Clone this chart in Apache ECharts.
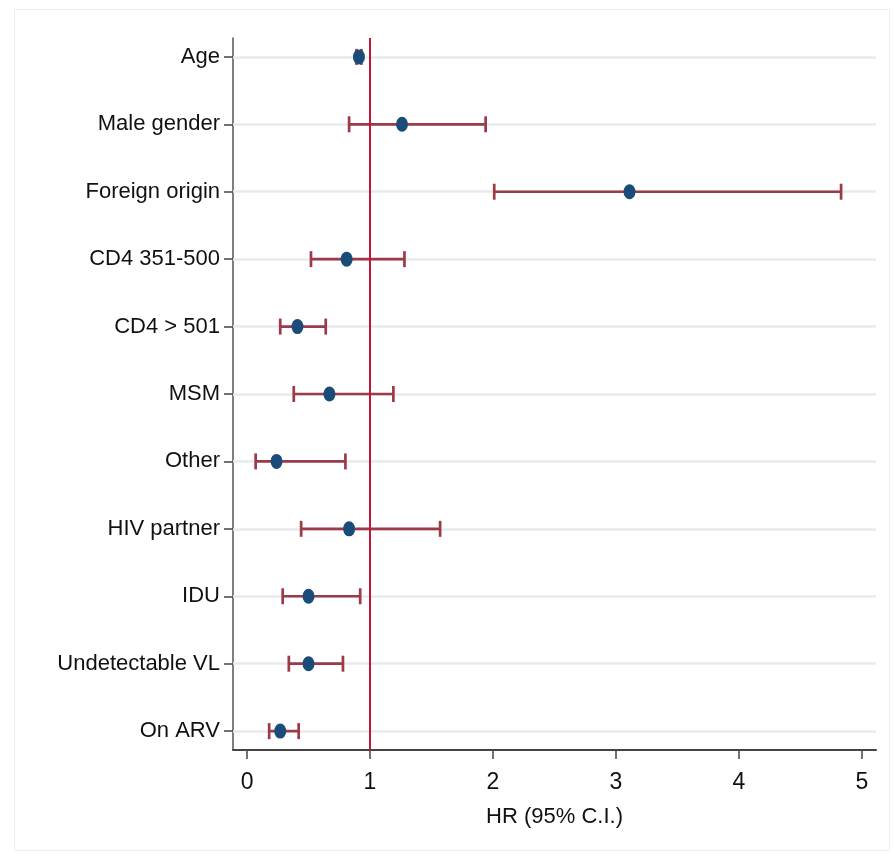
<!DOCTYPE html>
<html>
<head>
<meta charset="utf-8">
<script src="https://cdn.jsdelivr.net/npm/echarts@6/dist/echarts.min.js"></script>
<style>
html,body{margin:0;padding:0;background:#ffffff;}
#chart{width:894px;height:862px;}
</style>
</head>
<body>
<div id="chart"></div>
<script>
// Data (top level)
var categories = ['Age','Male gender','Foreign origin','CD4 351-500','CD4 > 501','MSM','Other','HIV partner','IDU','Undetectable VL','On ARV'];
var hrValues   = [0.91, 1.26, 3.11, 0.81, 0.41, 0.67, 0.24, 0.83, 0.50, 0.50, 0.27];
var ciLower    = [0.89, 0.83, 2.01, 0.52, 0.27, 0.38, 0.07, 0.44, 0.29, 0.34, 0.18];
var ciUpper    = [0.93, 1.94, 4.83, 1.28, 0.64, 1.19, 0.80, 1.57, 0.92, 0.78, 0.42];
var xTicks     = [0, 1, 2, 3, 4, 5];
var referenceHR = 1;

var FONT = '"Liberation Sans", Arial, Helvetica, sans-serif';
var rowIdx = categories.map(function(c, i){ return i; });

var errData = categories.map(function(c, i){ return [ciLower[i], ciUpper[i], i]; });
var ptData  = categories.map(function(c, i){ return [hrValues[i], i]; });

var chart = echarts.init(document.getElementById('chart'), null, {renderer: 'canvas'});

var option = {
  animation: false,
  backgroundColor: '#ffffff',
  graphic: [{
    type: 'rect', left: 12, top: 7, silent: true,
    shape: {width: 875, height: 841},
    style: {fill: 'none', stroke: '#eeeeee', lineWidth: 1}
  }],
  grid: {left: 233, right: 18, top: 38, bottom: 112, containLabel: false},
  xAxis: {
    type: 'value',
    min: -0.114, max: 5.114,
    name: 'HR (95% C.I.)',
    nameLocation: 'middle',
    nameGap: 56,
    nameTextStyle: {fontFamily: FONT, fontSize: 22, color: '#111'},
    axisLine: {show: true, onZero: false, lineStyle: {color: '#444', width: 2}},
    axisTick: {show: true, length: 9, customValues: xTicks, lineStyle: {color: '#444', width: 1.5}},
    axisLabel: {customValues: xTicks, fontFamily: FONT, fontSize: 23, color: '#111', margin: 21,
      formatter: function(v){ return String(v); }},
    splitLine: {show: false}
  },
  yAxis: {
    type: 'value',
    inverse: true,
    min: -0.28, max: 10.28,
    axisLine: {show: true, onZero: false, lineStyle: {color: '#555', width: 1.5}},
    axisTick: {show: true, length: 9, customValues: rowIdx, lineStyle: {color: '#444', width: 1.5}},
    axisLabel: {customValues: rowIdx, fontFamily: FONT, fontSize: 22, color: '#111', margin: 13,
      formatter: function(v){ return categories[Math.round(v)] || ''; }},
    splitLine: {show: false}
  },
  series: [
    {
      type: 'scatter',
      data: [],
      silent: true,
      z: 1,
      markLine: {
        silent: true, symbol: 'none', animation: false, z: 1,
        label: {show: false},
        lineStyle: {color: '#e7ebed', width: 2.5, type: 'solid'},
        data: rowIdx.map(function(i){ return {yAxis: i}; })
      }
    },
    {
      type: 'custom',
      data: errData,
      encode: {x: [0, 1], y: 2},
      silent: true,
      z: 3,
      renderItem: function(params, api){
        var lo = api.coord([api.value(0), api.value(2)]);
        var hi = api.coord([api.value(1), api.value(2)]);
        var h = 8;
        var st = {stroke: '#9c3a48', lineWidth: 2.7};
        return {
          type: 'group',
          children: [
            {type: 'line', shape: {x1: lo[0], y1: lo[1], x2: hi[0], y2: hi[1]}, style: st},
            {type: 'line', shape: {x1: lo[0], y1: lo[1] - h, x2: lo[0], y2: lo[1] + h}, style: st},
            {type: 'line', shape: {x1: hi[0], y1: hi[1] - h, x2: hi[0], y2: hi[1] + h}, style: st}
          ]
        };
      }
    },
    {
      type: 'scatter',
      data: [],
      silent: true,
      z: 4,
      markLine: {
        silent: true, symbol: 'none', animation: false, z: 4,
        label: {show: false},
        lineStyle: {color: '#c0163b', width: 2, type: 'solid'},
        data: [{xAxis: referenceHR}]
      }
    },
    {
      type: 'scatter',
      data: ptData,
      symbol: 'circle',
      symbolSize: [12, 15],
      itemStyle: {color: '#1b4b78', opacity: 1},
      silent: true,
      z: 6
    }
  ]
};
chart.setOption(option);
</script>
</body>
</html>
